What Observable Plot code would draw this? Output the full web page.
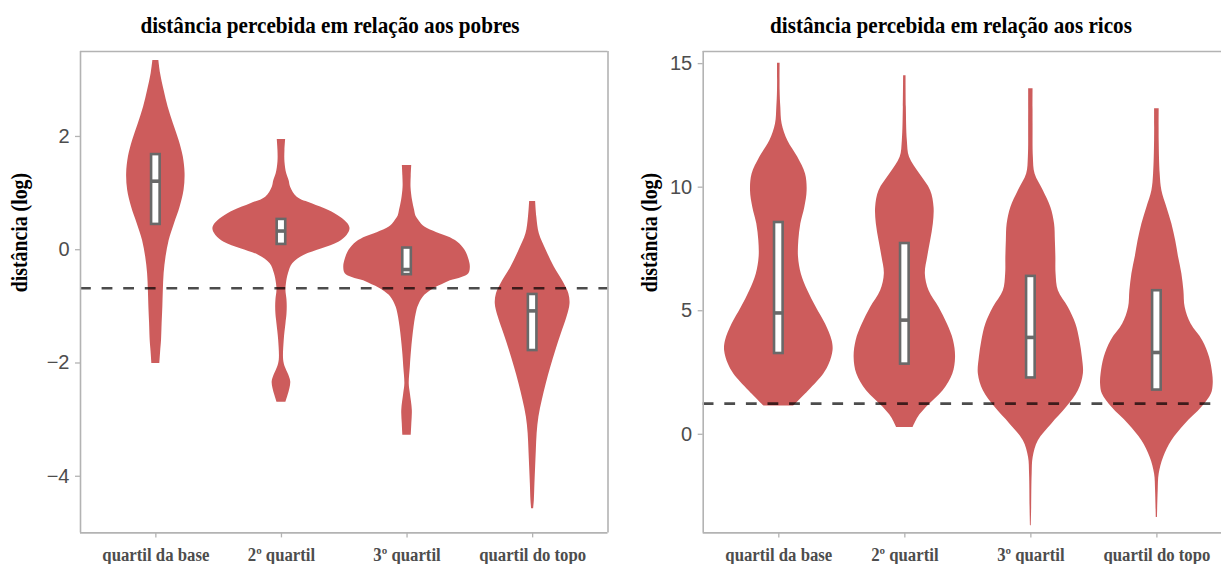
<!DOCTYPE html>
<html><head><meta charset="utf-8">
<script src="https://cdn.jsdelivr.net/npm/d3@7"></script>
<script src="https://cdn.jsdelivr.net/npm/@observablehq/plot@0.6"></script>
<style>
html,body{margin:0;padding:0;background:#fff;overflow:hidden;}
#wrap{position:relative;width:1221px;height:564px;overflow:hidden;}
.panel{position:absolute;top:0;}
#titles{position:absolute;left:0;top:0;pointer-events:none;}
</style></head><body><div id="wrap"></div>
<script>
// ---------- data ----------
const categories = ["quartil da base", "2º quartil", "3º quartil", "quartil do topo"];
const titles = ["distância percebida em relação aos pobres", "distância percebida em relação aos ricos"];
const yLabel = "distância (log)";

// violin profiles: [value, density half-width]
const pobresBase = [[3.34,3],[3.11,4.7],[2.81,8.3],[2.52,12.3],[2.22,17.7],[1.93,23.3],[1.64,27.5],[1.34,29.3],[1.05,28.3],[0.75,24.3],[0.46,18.7],[0.16,13.3],[-0.13,10.2],[-0.42,8.3],[-0.72,7.5],[-1.01,7],[-1.30,6.3],[-1.60,5.7],[-1.80,4.8],[-2.01,4]];
const pobres2 = [[1.945,4.2],[1.75,3.5],[1.55,3.5],[1.34,5.3],[1.22,7.7],[1.105,9.2],[0.928,15.8],[0.812,30.8],[0.694,47.5],[0.575,59.2],[0.459,66.7],[0.371,68.8],[0.252,65.8],[0.134,57.5],[0.018,40.8],[-0.10,22.5],[-0.247,11.3],[-0.424,7],[-0.60,5],[-0.72,4.5],[-0.88,5.5],[-1.01,5.8],[-1.15,5.5],[-1.31,4.5],[-1.60,2.8],[-1.95,2.2],[-2.08,4],[-2.20,7],[-2.33,9.3],[-2.45,8.5],[-2.58,6.5],[-2.695,4.5]];
const pobres3 = [[1.488,4.7],[1.30,4.2],[1.10,4],[0.87,5.5],[0.70,7.5],[0.59,9],[0.50,12.5],[0.40,17.8],[0.30,30],[0.21,43.5],[0.10,53],[-0.044,59.3],[-0.17,62],[-0.30,63.5],[-0.425,62],[-0.49,55],[-0.55,43.5],[-0.62,35],[-0.68,27.7],[-0.806,17.8],[-0.95,12.5],[-1.07,10],[-1.37,7],[-1.78,4.5],[-2.07,3.3],[-2.37,2.2],[-2.54,3.3],[-2.84,5.3],[-3.07,4.8],[-3.278,4.2]];
const pobresTopo = [[0.853,3],[0.575,4.2],[0.282,6.7],[-0.012,13.7],[-0.307,21.7],[-0.60,31.7],[-0.777,36.3],[-0.953,37.5],[-1.19,34.5],[-1.483,28.8],[-1.778,23.3],[-2.072,18.3],[-2.365,13.7],[-2.66,9.7],[-2.955,6.3],[-3.248,4.5],[-3.543,3.7],[-3.838,3],[-4.131,2.3],[-4.426,1.7],[-4.572,1]];
const pobresQ1 = [0.447, 0.094, -0.44, -1.78];
const pobresMedian = [1.21, 0.33, -0.35, -1.08];
const pobresQ3 = [1.68, 0.535, 0.03, -0.79];
const pobresRef = -0.68;
const pobresTicks = [-4, -2, 0, 2];

const ricosBase = [[15.01,1.3],[13.91,1.3],[13.23,2],[12.56,3.3],[11.88,9],[11.21,19],[10.53,26.7],[9.86,28.3],[9.18,26],[8.51,22],[7.83,20],[7.16,19.7],[6.49,22.5],[5.81,29],[5.13,37.5],[4.46,46.7],[3.79,53.3],[3.38,54.2],[2.84,50.5],[2.44,45],[1.76,30],[1.15,15]];
const ricos2 = [[14.51,1.2],[13.23,1.5],[11.88,2.5],[11.21,4.7],[10.53,15],[9.86,25.8],[9.18,29.2],[8.51,28.5],[7.83,25.8],[7.16,22.8],[6.49,20.5],[5.81,24.2],[5.13,34.2],[4.46,42.5],[3.79,48.7],[3.11,50.7],[2.44,48],[1.76,38.3],[1.09,21.7],[0.68,13.3],[0.28,8.3]];
const ricos3 = [[13.98,2.2],[12.56,2.2],[11.21,2.5],[10.53,4.2],[9.86,12.5],[9.18,20],[8.51,23.7],[7.83,24.5],[7.16,25],[6.49,25.2],[5.81,27.5],[5.13,37.5],[4.46,45],[3.79,49],[3.11,51.5],[2.44,52.5],[1.76,47.5],[1.09,35.8],[0.41,20.8],[-0.26,7.5],[-0.94,2.3],[-1.61,1.3],[-2.96,0.8],[-3.70,0.4]];
const ricosTopo = [[13.17,2.3],[11.88,2.3],[10.53,3.3],[9.86,5],[9.18,10],[8.51,15],[7.83,18.8],[7.16,21.7],[6.49,25],[5.81,27],[5.13,28.3],[4.46,34.2],[3.79,45.8],[3.11,52.7],[2.44,55.8],[2.03,56.3],[1.63,54.5],[1.09,45],[0.41,28.3],[-0.26,15],[-0.94,6.7],[-1.61,2.3],[-2.29,1.3],[-3.37,0.6]];
const ricosQ1 = [3.27, 2.84, 2.28, 1.79];
const ricosMedian = [4.91, 4.62, 3.92, 3.31];
const ricosQ3 = [8.57, 7.72, 6.39, 5.81];
const ricosRef = 1.24;
const ricosTicks = [0, 5, 10, 15];

// ---------- drawing ----------
const xDomain = [0.4, 4.6];
const densityScale = 1 / 126;
const boxHalf = 0.034;
const serif = "'Liberation Serif', 'Times New Roman', serif";
const sans = "'Liberation Sans', Arial, sans-serif";
const border = {stroke: "#b3b3b3", strokeWidth: 1.6};

function panel({violins, q1, med, q3, ref, domain, ticks, width, marginLeft, marginRight, xRange, rightEdge, labelDx}) {
  const pts = [];
  violins.forEach((arr, i) => arr.forEach(([v, w]) => pts.push({cat: categories[i], i: i + 1, v, w: w * densityScale})));
  const boxes = categories.map((c, i) => ({cat: c, i: i + 1, q1: q1[i], med: med[i], q3: q3[i]}));
  return Plot.plot({
    width, height: 564,
    marginTop: 51, marginBottom: 31.6, marginLeft, marginRight,
    x: {domain: xDomain, range: xRange},
    y: {domain},
    style: {background: "transparent"},
    marks: [
      Plot.areaX(pts, {y: "v", x1: d => d.i - d.w, x2: d => d.i + d.w, z: "cat", fill: "#cd5c5c", curve: "catmull-rom"}),
      Plot.ruleY([ref], {stroke: "#000", strokeOpacity: 0.7, strokeWidth: 2.6, strokeDasharray: "10.8,10.8"}),
      Plot.rect(boxes, {x1: d => d.i - boxHalf, x2: d => d.i + boxHalf, y1: "q1", y2: "q3", fill: "white", stroke: "#696969", strokeWidth: 2.6}),
      Plot.ruleY(boxes, {y: "med", x1: d => d.i - boxHalf, x2: d => d.i + boxHalf, stroke: "#696969", strokeWidth: 3.6}),
      // panel border (the right edge of the second panel lies outside the picture)
      Plot.ruleY(domain, border),
      Plot.ruleX(rightEdge ? xDomain : [xDomain[0]], border),
      Plot.axisY({ticks, tickSize: 5, tickPadding: 6, stroke: "#b3b3b3", strokeWidth: 1.3, fill: "#4d4d4d", fontSize: 20, fontFamily: sans, label: null}),
      Plot.axisX({ticks: [1, 2, 3, 4], tickFormat: i => categories[i - 1], tickSize: 5, tickPadding: 10, stroke: "#b3b3b3", strokeWidth: 1.3, fill: "#4d4d4d", fontSize: 18, fontFamily: serif, fontWeight: "bold", label: null}),
      Plot.text([yLabel], {frameAnchor: "left", rotate: -90, dx: labelDx, fontSize: 23, fontFamily: serif, fontWeight: "bold", fill: "#000"})
    ]
  });
}

function condenseText(sel, factor) {
  sel.forEach(el => {
    const w = el.getComputedTextLength();
    el.setAttribute("textLength", w * factor);
    el.setAttribute("lengthAdjust", "spacingAndGlyphs");
  });
}

const wrap = document.getElementById("wrap");
const left = panel({violins: [pobresBase, pobres2, pobres3, pobresTopo], q1: pobresQ1, med: pobresMedian, q3: pobresQ3,
  ref: pobresRef, domain: [-5.0, 3.5], ticks: pobresTicks, width: 620, marginLeft: 80, marginRight: 12.5,
  xRange: [80, 607.5], rightEdge: true, labelDx: -61});
left.classList.add("panel"); left.style.left = "0px";
wrap.appendChild(left);

const right = panel({violins: [ricosBase, ricos2, ricos3, ricosTopo], q1: ricosQ1, med: ricosMedian, q3: ricosQ3,
  ref: ricosRef, domain: [-3.99, 15.49], ticks: ricosTicks, width: 601, marginLeft: 82.7, marginRight: 0,
  xRange: [82.7, 612], rightEdge: false, labelDx: -54});
right.classList.add("panel"); right.style.left = "620px";
wrap.appendChild(right);

[left, right].forEach(svg => {
  condenseText(svg.querySelectorAll('g[aria-label="x-axis tick label"] text'), 0.93);
  condenseText(svg.querySelectorAll('g[aria-label="text"] text'), 0.86);
});

// titles
const ns = "http://www.w3.org/2000/svg";
const tsvg = document.createElementNS(ns, "svg");
tsvg.setAttribute("id", "titles");
tsvg.setAttribute("width", 1221); tsvg.setAttribute("height", 50);
wrap.appendChild(tsvg);
[[330, titles[0]], [951, titles[1]]].forEach(([x, t]) => {
  const el = document.createElementNS(ns, "text");
  el.setAttribute("x", x); el.setAttribute("y", 33);
  el.setAttribute("text-anchor", "middle");
  el.setAttribute("font-family", serif);
  el.setAttribute("font-weight", "bold");
  el.setAttribute("font-size", 23);
  el.textContent = t;
  tsvg.appendChild(el);
});
condenseText(tsvg.querySelectorAll("text"), 0.92);
</script>
</body></html>
